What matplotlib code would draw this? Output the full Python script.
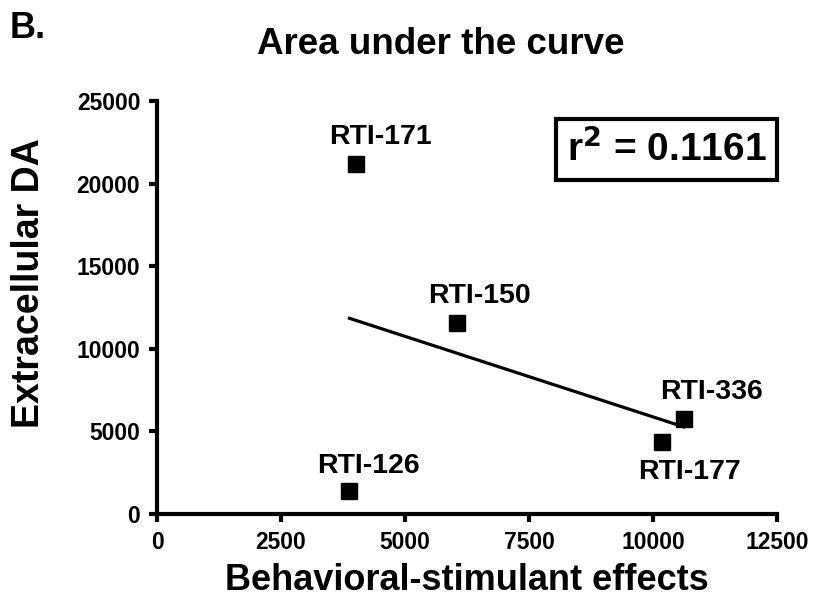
import numpy as np
import matplotlib.pyplot as plt

plt.rcParams['font.family'] = ['Liberation Sans', 'DejaVu Sans']
plt.rcParams['font.weight'] = 'bold'

# Data
compounds = ['RTI-126', 'RTI-171', 'RTI-150', 'RTI-177', 'RTI-336']
behavioral = [3880, 4020, 6050, 10180, 10620]
extracellular_da = [1400, 21200, 11560, 4350, 5750]
r_squared_text = 'r$^{2}$ = 0.1161'

# label offsets (points) relative to each marker
label_offsets = [(14, 18), (17, 19), (16, 19.5), (19.5, -21.5), (20, 19.5)]

fig = plt.figure(figsize=(8.2, 6.08), dpi=100)
ax = fig.add_axes([0.1915, 0.1546, 0.7561, 0.6793])

x = np.array(behavioral, dtype=float)
y = np.array(extracellular_da, dtype=float)

# linear regression line over the range of the data
slope, intercept = np.polyfit(x, y, 1)
xfit = np.array([x.min(), x.max()])
ax.plot(xfit, slope * xfit + intercept, color='black', lw=2.3, zorder=2)

ax.plot(x, y, 's', color='black', markersize=11.5, zorder=3)

for name, xi, yi, off in zip(compounds, x, y, label_offsets):
    ax.annotate(name, (xi, yi), xytext=off, textcoords='offset points',
                ha='center', va='center', fontsize=20.5, fontweight='bold')

ax.text(0.822, 0.8826, r_squared_text, transform=ax.transAxes, ha='center', va='center',
        fontsize=28, fontweight='bold',
        bbox=dict(boxstyle='square,pad=0.28', fc='white', ec='black', lw=3))

ax.set_xlim(0, 12500)
ax.set_ylim(0, 25000)
ax.set_xticks(np.arange(0, 12501, 2500))
ax.set_yticks(np.arange(0, 25001, 5000))

for side in ['top', 'right']:
    ax.spines[side].set_visible(False)
for side in ['left', 'bottom']:
    ax.spines[side].set_linewidth(3)
ax.tick_params(width=3, length=6, labelsize=16.5, pad=6)
for lab in ax.get_xticklabels() + ax.get_yticklabels():
    lab.set_fontweight('bold')

ax.set_xlabel('Behavioral-stimulant effects', fontsize=26, fontweight='bold', labelpad=7)
ax.set_ylabel('Extracellular DA', fontsize=27, fontweight='bold')
ax.yaxis.set_label_coords(-0.178, 0.56)
fig.text(0.538, 0.926, 'Area under the curve', ha='center', va='center',
         fontsize=26.5, fontweight='bold')
fig.text(0.012, 0.953, 'B.', ha='left', va='center', fontsize=26, fontweight='bold')

fig.savefig('out.png', dpi=100)
